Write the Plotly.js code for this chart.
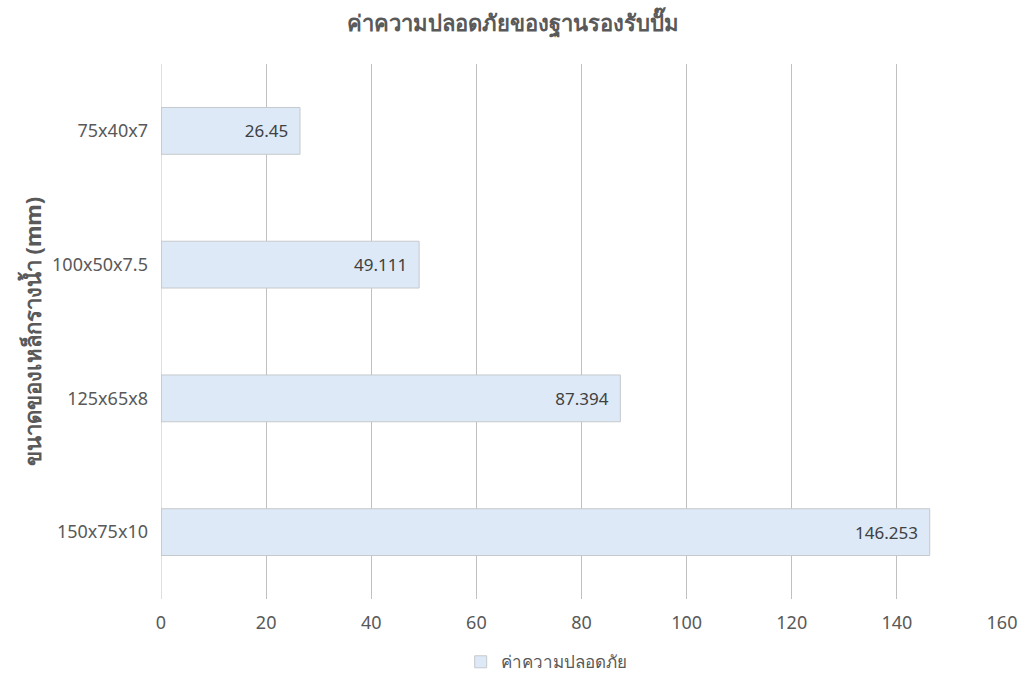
<!DOCTYPE html>
<html>
<head>
<meta charset="utf-8">
<script src="https://cdn.plot.ly/plotly-3.0.1.min.js"></script>
<style>html,body{margin:0;padding:0;background:#fff;}#chart{width:1025px;height:673px;}</style>
</head>
<body>
<div id="chart"></div>
<script>
const categories = ["75x40x7", "100x50x7.5", "125x65x8", "150x75x10"];
const values = [26.45, 49.111, 87.394, 146.253];
const valueLabels = ["26.45", "49.111", "87.394", "146.253"];
const xTicks = [0, 20, 40, 60, 80, 100, 120, 140, 160];
const seriesName = "ค่าความปลอดภัย";
const chartTitle = "ค่าความปลอดภัยของฐานรองรับปั๊ม";
const yTitle = "ขนาดของเหล็กรางน้ำ (mm)";

const trace = {
  type: "bar",
  orientation: "h",
  x: values,
  y: categories,
  name: seriesName,
  text: valueLabels,
  texttemplate: "%{text}\u00a0\u00a0",
  textposition: "inside",
  insidetextanchor: "end",
  textfont: {size: 17, color: "#404040"},
  marker: {color: "#dde9f7", line: {color: "#c6c9cc", width: 1}},
  showlegend: true,
  hoverinfo: "x+y"
};

const layout = {
  width: 1025, height: 673,
  margin: {l: 161, r: 23, t: 64, b: 74},
  paper_bgcolor: "#fff", plot_bgcolor: "#fff",
  font: {family: "Noto Sans, DejaVu Sans, sans-serif", color: "#595959", size: 17},
  title: {text: "<b>" + chartTitle + "</b>", x: 0.5, xanchor: "center", y: 0.965, yanchor: "middle", font: {size: 22, color: "#595959"}},
  bargap: 0.65,
  xaxis: {
    range: [0, 160], tickvals: xTicks, ticktext: xTicks.map(String),
    showgrid: true, gridcolor: "#c0c0c0", gridwidth: 1,
    zeroline: false, showline: false, ticks: "", ticklabelstandoff: 11,
    tickfont: {size: 18, color: "#595959"}, fixedrange: true
  },
  yaxis: {
    type: "category", autorange: "reversed",
    showgrid: false, zeroline: false, showline: false, ticks: "",
    ticklabelstandoff: 12,
    tickfont: {size: 18, color: "#595959"},
    title: {text: "<b>" + yTitle + "</b>", font: {size: 22, color: "#595959"}, standoff: 4}
  },
  legend: {orientation: "h", x: 0.458, xanchor: "center", yref: "container", y: 0.016, yanchor: "middle", font: {size: 17, color: "#595959"}},
  shapes: [{type: "line", xref: "x", yref: "paper", x0: 0, x1: 0, y0: 0, y1: 1, line: {color: "#c0c0c0", width: 1}}]
};

Plotly.newPlot("chart", [trace], layout, {displayModeBar: false, staticPlot: true});
</script>
</body>
</html>
